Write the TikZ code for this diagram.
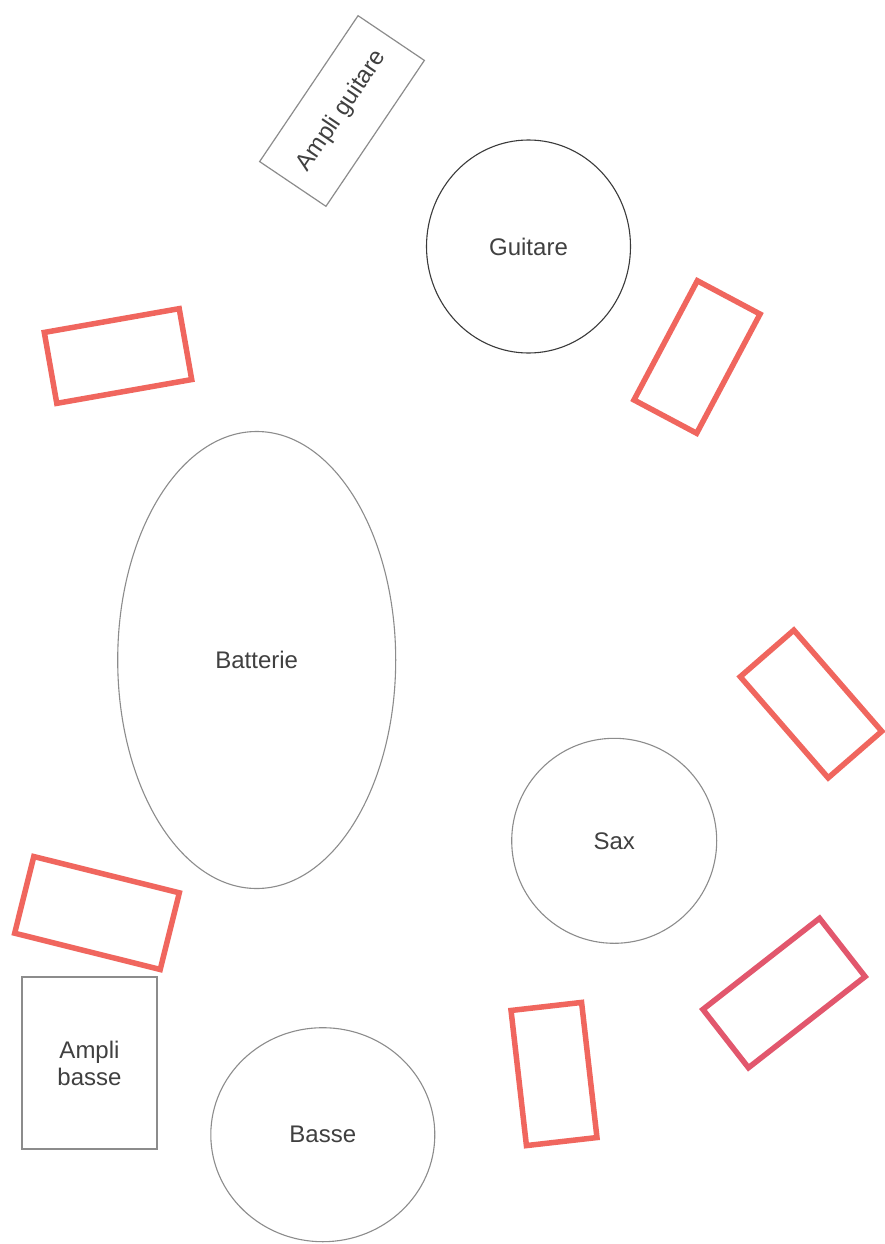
\documentclass[tikz,border=0pt]{standalone}
\usepackage{fontspec}
\setmainfont{Liberation Sans}
\usetikzlibrary{shapes.geometric}
\definecolor{txt}{HTML}{404040}
\definecolor{grayline}{HTML}{8C8C8C}
\definecolor{darkline}{HTML}{3A3A3A}
\definecolor{redline}{HTML}{F0665E}
\definecolor{pinkline}{HTML}{E2576D}
\tikzset{
  lab/.style={font=\fontsize{24}{27}\selectfont, text=txt, align=center},
  instr/.style={lab, ellipse, draw=grayline, line width=1.1pt, inner sep=0pt},
  ampbox/.style={lab, rectangle, draw=grayline, line width=1.2pt, inner sep=0pt},
  spot/.style={rectangle, draw=redline, line width=5.5pt, inner sep=0pt},
}
\begin{document}
\begin{tikzpicture}[x=1pt,y=-1pt]
\useasboundingbox[fill=white] (0,0) rectangle (884,1244);
% instruments
\node[instr, draw=darkline, minimum width=204pt, minimum height=213pt] (guitare) at (528.5,246.5) {Guitare};
\node[instr, minimum width=278pt, minimum height=457pt] (batterie) at (256.7,660) {Batterie};
\node[instr, minimum width=205pt, minimum height=205pt] (sax) at (614.2,840.8) {Sax};
\node[instr, minimum width=224pt, minimum height=214pt] (basse) at (322.8,1134.7) {Basse};
% amps
\node[ampbox, rotate=56, minimum width=176pt, minimum height=80pt] (ampg) at (342,111) {Ampli guitare};
\node[ampbox, minimum width=135pt, minimum height=172pt] (ampb) at (89.5,1063) {Ampli\\basse};
% red spots
\node[spot, rotate=10, minimum width=137pt, minimum height=72pt] (s1) at (118,356) {};
\node[spot, rotate=62, minimum width=135pt, minimum height=71pt] (s2) at (697,357) {};
\node[spot, rotate=-49, minimum width=134pt, minimum height=71pt] (s3) at (811,704) {};
\node[spot, draw=pinkline, rotate=38, minimum width=148pt, minimum height=74pt] (s4) at (784,993) {};
\node[spot, rotate=6.5, minimum width=71pt, minimum height=136pt] (s5) at (554,1074) {};
\node[spot, rotate=-14, minimum width=150pt, minimum height=79pt] (s6) at (97,913) {};
\end{tikzpicture}
\end{document}
